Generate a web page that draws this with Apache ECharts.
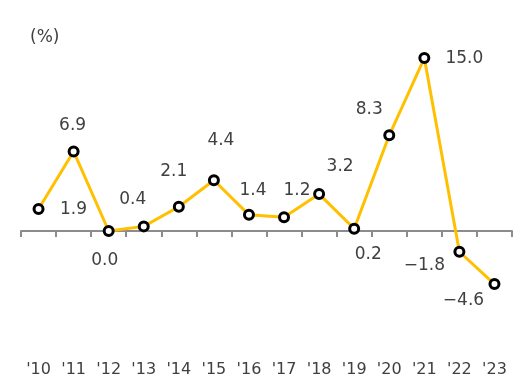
<!DOCTYPE html>
<html>
<head>
<meta charset="utf-8">
<script src="https://cdn.jsdelivr.net/npm/echarts@6/dist/echarts.min.js"></script>
<style>html,body{margin:0;padding:0;background:#fff}#c{width:528px;height:386px}</style>
</head>
<body>
<div id="c"></div>
<script>
var categories = ["'10","'11","'12","'13","'14","'15","'16","'17","'18","'19","'20","'21","'22","'23"];
var growth = [1.9, 6.9, 0.0, 0.4, 2.1, 4.4, 1.4, 1.2, 3.2, 0.2, 8.3, 15.0, -1.8, -4.6];
var unitLabel = '(%)';
var labelOffsets = [[35,0],[-1,-26],[-4,30],[-11,-27],[-5,-35],[7,-40],[4,-24],[13,-27],[21,-28],[14,26],[-20,-26],[40,1],[-35,14],[-31,17]];

function fmt(v){ var s = Math.abs(v).toFixed(1); return v < 0 ? '\u2212' + s : s; }

var chart = echarts.init(document.getElementById('c'), null, {renderer:'canvas'});
var font = 'DejaVu Sans';
chart.setOption({
  animation: false,
  grid: {left: 21, right: 16, top: 46.5, bottom: 39.7},
  graphic: [{type:'text', left: 30, top: 29, style:{text: unitLabel, font: '17px "DejaVu Sans"', fill:'#404040'}}],
  xAxis: [{
    type:'category', data: categories, boundaryGap: true, position:'bottom',
    axisLine:{show:true, onZero:true, lineStyle:{color:'#8c8c8c', width:2}},
    axisTick:{show:true, length:6, lineStyle:{color:'#8c8c8c', width:2}},
    axisLabel:{show:false}
  },{
    type:'category', data: categories, boundaryGap: true, position:'bottom',
    axisLine:{show:false, onZero:false}, axisTick:{show:false},
    axisLabel:{show:true, margin:16, fontFamily:font, fontSize:16, color:'#404040'}
  }],
  yAxis: {type:'value', min:-10, max:16, show:false, splitLine:{show:false}},
  series: [{
    type:'line', xAxisIndex:0,
    data: growth.map(function(v,i){ return {value:v, label:{offset: labelOffsets[i]}}; }),
    lineStyle:{color:'#FFC000', width:3},
    itemStyle:{color:'#ffffff', borderColor:'#000000', borderWidth:3},
    symbol:'circle', symbolSize:9, showAllSymbol:true,
    label:{show:true, position:'inside', fontFamily:font, fontSize:17, color:'#404040',
      formatter:function(p){ return fmt(p.value); }},
    z: 3
  }]
});
</script>
</body>
</html>
